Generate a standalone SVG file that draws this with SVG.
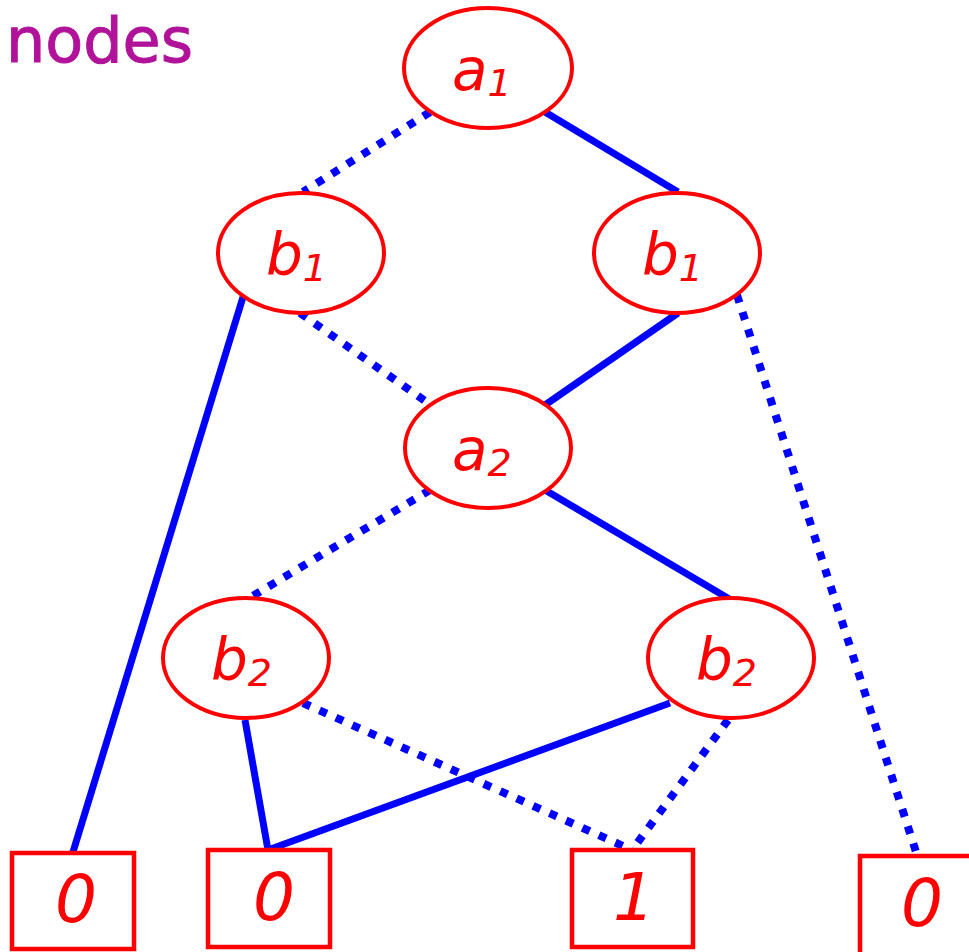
<svg xmlns="http://www.w3.org/2000/svg" width="969" height="952" viewBox="0 0 969 952">
<style>
.n ellipse{fill:#fff;stroke:#f00;stroke-width:4}
.n rect{fill:#fff;stroke:#f00;stroke-width:4.5}
.lbl{font-family:"DejaVu Sans","Liberation Sans",sans-serif;font-style:italic;fill:#f00;font-size:58px}
.big{font-size:66px}
.sub{font-size:38px}
.solid{stroke:#00f;stroke-width:7;fill:none}
.dot{stroke:#00f;stroke-width:8;fill:none;stroke-dasharray:8 10}
</style>
<rect width="969" height="952" fill="#fff"/>
<text x="6" y="62" font-family="'DejaVu Sans',sans-serif" font-size="62" fill="#b0139a" stroke="#b0139a" stroke-width="1">nodes</text>
<g id="edges">
<line class="dot" x1="430" y1="112" x2="303" y2="192"/>
<line class="solid" x1="545" y1="112" x2="678" y2="192"/>
<line class="solid" x1="243" y1="297" x2="73" y2="852"/>
<line class="dot" x1="300" y1="313" x2="428" y2="403"/>
<line class="solid" x1="678" y1="313" x2="545" y2="405"/>
<line class="dot" x1="737" y1="295" x2="917" y2="855"/>
<line class="dot" x1="430" y1="490" x2="246" y2="600"/>
<line class="solid" x1="545" y1="490" x2="731" y2="600"/>
<line class="solid" x1="245" y1="720" x2="268" y2="850"/>
<line class="dot" x1="303" y1="703" x2="632" y2="850"/>
<line class="solid" x1="670" y1="703" x2="268" y2="850"/>
<line class="dot" x1="728" y1="720" x2="632" y2="850"/>
</g>
<g id="a1" class="n"><ellipse cx="488" cy="68" rx="84" ry="60"/><text class="lbl" x="452" y="90">a<tspan class="sub" dy="6">1</tspan></text></g>
<g id="b1L" class="n"><ellipse cx="301" cy="253" rx="83" ry="60"/><text class="lbl" x="266" y="275">b<tspan class="sub" dy="6">1</tspan></text></g>
<g id="b1R" class="n"><ellipse cx="677" cy="253" rx="83" ry="60"/><text class="lbl" x="642" y="275">b<tspan class="sub" dy="6">1</tspan></text></g>
<g id="a2" class="n"><ellipse cx="488" cy="448" rx="83" ry="60"/><text class="lbl" x="452" y="470">a<tspan class="sub" dy="6">2</tspan></text></g>
<g id="b2L" class="n"><ellipse cx="246" cy="658" rx="83" ry="60"/><text class="lbl" x="211" y="680">b<tspan class="sub" dy="6">2</tspan></text></g>
<g id="b2R" class="n"><ellipse cx="731" cy="658" rx="83" ry="60"/><text class="lbl" x="696" y="680">b<tspan class="sub" dy="6">2</tspan></text></g>
<g id="t0a" class="n"><rect x="12" y="853" width="122" height="96"/><text class="lbl big" x="76" y="922" text-anchor="middle">0</text></g>
<g id="t0b" class="n"><rect x="208" y="850" width="122" height="97"/><text class="lbl big" x="274" y="920" text-anchor="middle">0</text></g>
<g id="t1" class="n"><rect x="572" y="850" width="121" height="97"/><text class="lbl big" x="634" y="920" text-anchor="middle">1</text></g>
<g id="t0c" class="n"><rect x="860" y="856" width="120" height="100"/><text class="lbl big" x="922" y="926" text-anchor="middle">0</text></g>
</svg>
